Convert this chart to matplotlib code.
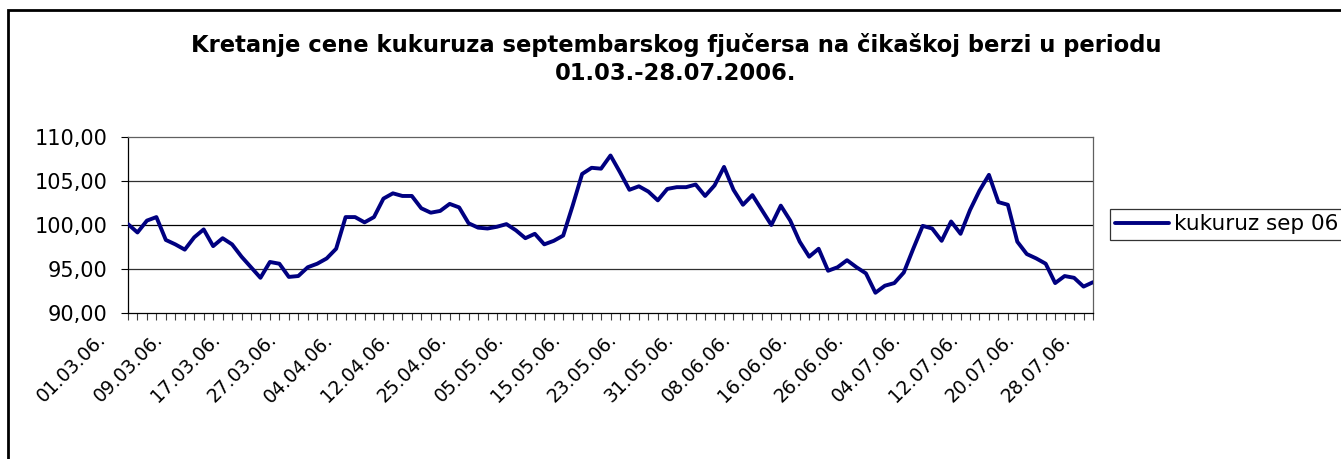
import matplotlib
matplotlib.use('Agg')
import matplotlib.pyplot as plt
import matplotlib.transforms as mtransforms
from matplotlib.patches import Rectangle

# daily settlement prices, one per trading day 01.03.06 - 28.07.06
prices = [100.1, 99.15, 100.5, 100.9, 98.3, 97.8, 97.2, 98.6, 99.5, 97.6,
          98.5, 97.8, 96.4, 95.2, 94.0, 95.8, 95.6, 94.1, 94.2, 95.2,
          95.6, 96.2, 97.3, 100.9, 100.9, 100.3, 100.9, 103.0, 103.6, 103.3,
          103.3, 101.9, 101.4, 101.6, 102.4, 102.0, 100.2, 99.7, 99.6, 99.8,
          100.1, 99.4, 98.5, 99.0, 97.8, 98.2, 98.8, 102.2, 105.8, 106.5,
          106.4, 107.9, 106.0, 104.0, 104.4, 103.8, 102.8, 104.1, 104.3, 104.3,
          104.6, 103.3, 104.5, 106.6, 104.0, 102.3, 103.4, 101.7, 100.0, 102.2,
          100.5, 98.1, 96.4, 97.3, 94.8, 95.2, 96.0, 95.2, 94.5, 92.3,
          93.1, 93.4, 94.6, 97.3, 99.9, 99.6, 98.2, 100.4, 99.0, 101.7,
          103.9, 105.7, 102.6, 102.3, 98.1, 96.7, 96.2, 95.6, 93.4, 94.2,
          94.0, 93.0, 93.5]

# every 6th trading day gets a label
date_labels = ['01.03.06.', '09.03.06.', '17.03.06.', '27.03.06.', '04.04.06.',
               '12.04.06.', '25.04.06.', '05.05.06.', '15.05.06.', '23.05.06.',
               '31.05.06.', '08.06.06.', '16.06.06.', '26.06.06.', '04.07.06.',
               '12.07.06.', '20.07.06.', '28.07.06.']
label_step = 6

y_ticks = [90, 95, 100, 105, 110]
series_name = 'kukuruz sep 06'
title = 'Kretanje cene kukuruza septembarskog fjučersa na čikaškoj berzi u periodu\n01.03.-28.07.2006.'

W, H = 1341, 459
fig = plt.figure(figsize=(W / 100, H / 100), dpi=100)

# outer chart frame (right and bottom edges fall outside the picture)
fig.patches.append(Rectangle((8 / W, -0.05), 1.2, 1.05 - 10 / H,
                             transform=fig.transFigure, fill=False,
                             edgecolor='black', linewidth=2, clip_on=False))

ax = fig.add_axes([128 / W, 1 - 313 / H, (1093 - 128) / W, (313 - 137) / H])

x = list(range(len(prices)))
ax.plot(x, prices, color='#000080', linewidth=2.8, solid_joinstyle='round',
        solid_capstyle='round', label=series_name, zorder=3)

ax.set_xlim(0, len(prices) - 1)
ax.set_ylim(90, 110)

ax.set_yticks(y_ticks)
ax.set_yticklabels([('%.2f' % v).replace('.', ',') for v in y_ticks])
ax.tick_params(axis='y', direction='out', length=5, width=0.8, pad=10, labelsize=15)

ax.set_xticks(range(0, len(prices), label_step))
ax.set_xticklabels(date_labels)
ax.set_xticks(x, minor=True)
ax.tick_params(axis='x', which='both', direction='out', length=5, width=0.8,
               color='#404040', labelsize=13.5, pad=12)
offset = mtransforms.ScaledTranslation(-0.25, 0.0, fig.dpi_scale_trans)
for lbl in ax.get_xticklabels():
    lbl.set_rotation(45)
    lbl.set_ha('right')
    lbl.set_va('center')
    lbl.set_rotation_mode('anchor')
    lbl.set_transform(lbl.get_transform() + offset)

for v in y_ticks[1:-1]:
    ax.axhline(v, color='black' if v == 100 else '#303030', linewidth=0.9, zorder=1)

ax.spines['left'].set_color('black')
ax.spines['bottom'].set_color('black')
ax.spines['top'].set_color('#606060')
ax.spines['right'].set_color('#606060')
for s in ax.spines.values():
    s.set_linewidth(0.9)

fig.text(676 / W, 1 - 33 / H, title, ha='center', va='top', fontsize=16.3,
         fontweight='bold', linespacing=1.3)

leg = fig.legend(loc='upper left', bbox_to_anchor=(1110 / W, 1 - 209 / H),
                 bbox_transform=fig.transFigure, borderaxespad=0, frameon=True,
                 fancybox=False, edgecolor='black', fontsize=15.5, handlelength=2.5,
                 handletextpad=0.2, borderpad=0.25)
leg.get_frame().set_linewidth(0.9)

fig.savefig('out.png', dpi=100)
